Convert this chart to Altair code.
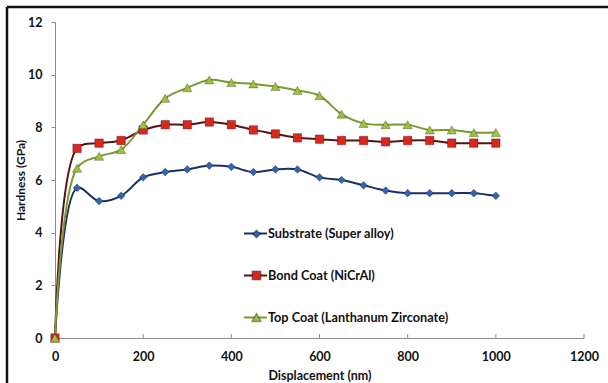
import altair as alt
import pandas as pd

displacement = [0, 50, 100, 150, 200, 250, 300, 350, 400, 450, 500,
                550, 600, 650, 700, 750, 800, 850, 900, 950, 1000]
substrate = [0, 5.7, 5.2, 5.4, 6.1, 6.3, 6.4, 6.55, 6.5, 6.3, 6.4,
             6.4, 6.1, 6.0, 5.8, 5.6, 5.5, 5.5, 5.5, 5.5, 5.4]
bond_coat = [0, 7.2, 7.4, 7.5, 7.9, 8.1, 8.1, 8.2, 8.1, 7.9, 7.75,
             7.6, 7.55, 7.5, 7.5, 7.45, 7.5, 7.5, 7.4, 7.4, 7.4]
top_coat = [0, 6.45, 6.9, 7.15, 8.1, 9.1, 9.5, 9.8, 9.7, 9.65, 9.55,
            9.4, 9.2, 8.5, 8.15, 8.1, 8.1, 7.9, 7.9, 7.8, 7.8]
series_names = ["Substrate (Super alloy)", "Bond Coat (NiCrAl)",
                "Top Coat (Lanthanum Zirconate)"]
marker_keys = ["substrate", "bond", "top"]
x_ticks = [0, 200, 400, 600, 800, 1000, 1200]
y_ticks = [0, 2, 4, 6, 8, 10, 12]

line_colors = ["#1c2f66", "#5a1212", "#7a9a32"]
marker_colors = ["#2f63b3", "#d8281e", "#9fc03c"]
marker_shapes = ["diamond", "square", "triangle-up"]
marker_sizes = [60, 85, 85]

rows = []
for name, key, vals in zip(series_names, marker_keys, [substrate, bond_coat, top_coat]):
    for d, v in zip(displacement, vals):
        rows.append({"Displacement": d, "Hardness": v, "series": name, "marker": key})
df = pd.DataFrame(rows)

W, H = 529, 316
FONT = "Lato"

xscale = alt.Scale(domain=[0, 1200], nice=False, zero=False)
yscale = alt.Scale(domain=[0, 12], nice=False, zero=False)

x_axis = alt.Axis(values=x_ticks, format="d", title="Displacement  (nm)", ticks=False, grid=False,
                  labelFlush=False, domainColor="#8c8c8c", domainWidth=1,
                  labelFont=FONT, labelFontSize=12.5, labelFontWeight="bold", labelColor="#111",
                  labelPadding=12, titleFont=FONT, titleFontSize=12.5, titleFontWeight="bold",
                  titleColor="#111", titleY=37, titleBaseline="middle")
y_axis = alt.Axis(values=y_ticks, title="Hardness (GPa)", ticks=True, tickSize=4,
                  tickColor="#8c8c8c", grid=False, domainColor="#8c8c8c", domainWidth=1,
                  labelFlush=False,
                  labelFont=FONT, labelFontSize=12.5, labelFontWeight="bold", labelColor="#111",
                  labelPadding=9, titleFont=FONT, titleFontSize=12, titleFontWeight="bold",
                  titleColor="#111", titleX=-35, titleY=H / 2, titleAngle=270,
                  titleAlign="center", titleBaseline="middle")

base = alt.Chart(df)

lines = base.mark_line(interpolate="catmull-rom", strokeWidth=2).encode(
    x=alt.X("Displacement:Q", scale=xscale, axis=x_axis),
    y=alt.Y("Hardness:Q", scale=yscale, axis=y_axis),
    stroke=alt.Stroke("series:N", scale=alt.Scale(domain=series_names, range=line_colors),
                      legend=alt.Legend(orient="none", legendX=188, legendY=199, title=None,
                                        symbolType="stroke", symbolSize=529, symbolStrokeWidth=2,
                                        labelFont=FONT, labelFontSize=12.7, labelFontWeight="bold",
                                        labelColor="#111", labelOffset=0, rowPadding=22,
                                        padding=0, labelLimit=400)),
)

marker_legend = alt.Legend(orient="none", legendX=196, legendY=207, title=None,
                           symbolSize=60, labelExpr="''",
                           labelFontSize=1, labelOffset=0, rowPadding=27,
                           padding=0)

points = base.mark_point(filled=True, opacity=1, strokeWidth=0.8,
                         stroke="rgba(0,0,0,0.35)").encode(
    x=alt.X("Displacement:Q", scale=xscale),
    y=alt.Y("Hardness:Q", scale=yscale),
    color=alt.Color("marker:N", scale=alt.Scale(domain=marker_keys, range=marker_colors),
                    legend=marker_legend),
    shape=alt.Shape("marker:N", scale=alt.Scale(domain=marker_keys, range=marker_shapes),
                    legend=marker_legend),
    size=alt.Size("marker:N", scale=alt.Scale(domain=marker_keys, range=marker_sizes),
                  legend=None),
)

tick_df = pd.DataFrame({"Displacement": x_ticks[1:]})
xticks = alt.Chart(tick_df).mark_rule(color="#8c8c8c", strokeWidth=1).encode(
    x=alt.X("Displacement:Q", scale=xscale),
    y=alt.value(H - 4),
    y2=alt.value(H),
)

frame_df = pd.DataFrame({"k": [0]})
frame_left = alt.Chart(frame_df).mark_rule(color="#111", strokeWidth=2.5).encode(
    x=alt.value(-48), y=alt.value(-15), y2=alt.value(H + 60))
frame_top = alt.Chart(frame_df).mark_rule(color="#111", strokeWidth=2.5).encode(
    x=alt.value(-48), x2=alt.value(W + 40), y=alt.value(-15))

chart = alt.layer(frame_left, frame_top, xticks, lines, points).properties(
    width=W, height=H,
    autosize=alt.AutoSizeParams(type="none"),
    padding={"left": 55, "top": 22, "right": 24, "bottom": 45},
    background="white",
).configure_view(stroke=None)

chart.save("out.html", embed_options={"renderer": "svg", "actions": False})
